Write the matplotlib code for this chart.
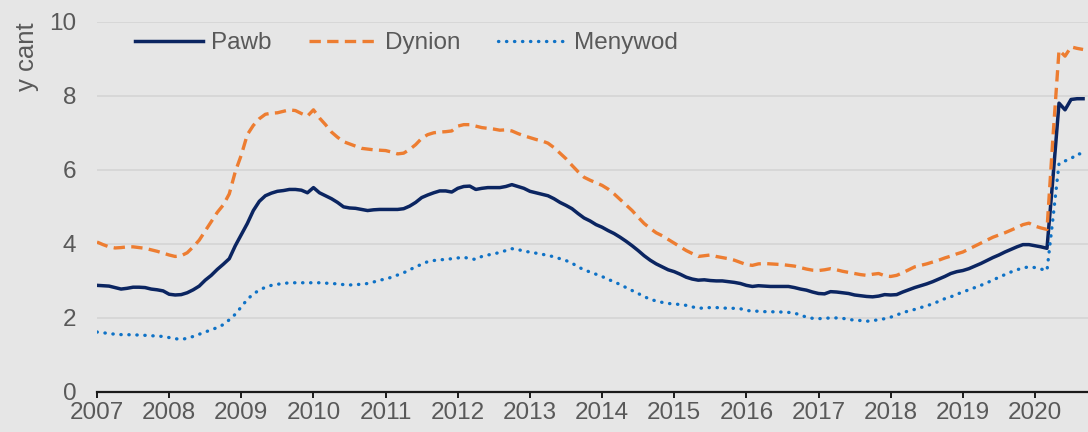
import numpy as np
import pandas as pd
import matplotlib
matplotlib.use("Agg")
import matplotlib.pyplot as plt

# misol fesul mis, Ionawr 2007 - Medi 2020
pawb = [
    2.88, 2.87, 2.86, 2.82, 2.78, 2.80, 2.83, 2.83, 2.82, 2.78, 2.76, 2.73,  # 2007
    2.64, 2.62, 2.63, 2.68, 2.76, 2.86, 3.02, 3.15, 3.31, 3.45, 3.60, 3.95,  # 2008
    4.25, 4.55, 4.90, 5.15, 5.30, 5.37, 5.42, 5.44, 5.47, 5.47, 5.45, 5.38,  # 2009
    5.52, 5.38, 5.30, 5.22, 5.12, 5.00, 4.97, 4.96, 4.93, 4.90, 4.92, 4.93,  # 2010
    4.93, 4.93, 4.93, 4.95, 5.02, 5.12, 5.25, 5.32, 5.38, 5.43, 5.43, 5.40,  # 2011
    5.50, 5.55, 5.56, 5.47, 5.50, 5.52, 5.52, 5.52, 5.55, 5.60, 5.55, 5.50,  # 2012
    5.42, 5.38, 5.34, 5.30, 5.22, 5.12, 5.04, 4.95, 4.82, 4.70, 4.62, 4.52,  # 2013
    4.45, 4.36, 4.28, 4.18, 4.07, 3.95, 3.82, 3.68, 3.56, 3.46, 3.38, 3.30,  # 2014
    3.25, 3.18, 3.10, 3.05, 3.02, 3.03, 3.01, 3.00, 3.00, 2.98, 2.96, 2.93,  # 2015
    2.88, 2.85, 2.87, 2.86, 2.85, 2.85, 2.85, 2.85, 2.82, 2.78, 2.75, 2.70,  # 2016
    2.66, 2.65, 2.71, 2.70, 2.68, 2.66, 2.62, 2.60, 2.58, 2.57, 2.59, 2.63,  # 2017
    2.62, 2.63, 2.70, 2.76, 2.82, 2.87, 2.92, 2.98, 3.05, 3.12, 3.20, 3.25,  # 2018
    3.28, 3.33, 3.40, 3.47, 3.55, 3.63, 3.70, 3.78, 3.85, 3.92, 3.98, 3.98,  # 2019
    3.95, 3.92, 3.88, 5.80, 7.80, 7.62, 7.90, 7.92, 7.92,                    # 2020
]
dynion = [
    4.05, 3.98, 3.92, 3.89, 3.90, 3.92, 3.92, 3.90, 3.88, 3.84, 3.80, 3.75,
    3.70, 3.66, 3.68, 3.76, 3.92, 4.10, 4.35, 4.60, 4.85, 5.05, 5.35, 5.95,
    6.40, 6.95, 7.20, 7.38, 7.50, 7.53, 7.54, 7.58, 7.62, 7.60, 7.52, 7.45,
    7.62, 7.40, 7.22, 7.02, 6.88, 6.76, 6.70, 6.64, 6.58, 6.56, 6.54, 6.53,
    6.52, 6.48, 6.43, 6.45, 6.55, 6.68, 6.85, 6.95, 7.00, 7.02, 7.03, 7.05,
    7.18, 7.22, 7.22, 7.18, 7.14, 7.12, 7.10, 7.07, 7.08, 7.05, 6.98, 6.92,
    6.87, 6.82, 6.78, 6.72, 6.60, 6.45, 6.30, 6.12, 5.95, 5.80, 5.72, 5.65,
    5.58, 5.48, 5.35, 5.20, 5.05, 4.90, 4.72, 4.55, 4.42, 4.30, 4.22, 4.12,
    4.02, 3.92, 3.82, 3.74, 3.66, 3.68, 3.70, 3.66, 3.63, 3.60, 3.56, 3.50,
    3.44, 3.42, 3.46, 3.47, 3.46, 3.45, 3.44, 3.42, 3.40, 3.36, 3.32, 3.29,
    3.28, 3.30, 3.33, 3.30, 3.26, 3.23, 3.20, 3.17, 3.15, 3.18, 3.20, 3.14,
    3.12, 3.15, 3.22, 3.30, 3.38, 3.42, 3.46, 3.51, 3.56, 3.62, 3.67, 3.73,
    3.78, 3.86, 3.94, 4.02, 4.10, 4.18, 4.24, 4.30, 4.37, 4.44, 4.52, 4.56,
    4.48, 4.43, 4.39, 6.90, 9.23, 9.07, 9.32, 9.28, 9.25,
]
menywod = [
    1.62, 1.60, 1.58, 1.56, 1.55, 1.55, 1.54, 1.54, 1.53, 1.52, 1.51, 1.50,
    1.47, 1.44, 1.42, 1.45, 1.50, 1.56, 1.62, 1.68, 1.74, 1.82, 1.95, 2.10,
    2.30, 2.50, 2.65, 2.75, 2.83, 2.88, 2.91, 2.93, 2.95, 2.95, 2.95, 2.95,
    2.95, 2.95, 2.94, 2.93, 2.92, 2.90, 2.89, 2.90, 2.91, 2.93, 2.97, 3.02,
    3.05, 3.10, 3.16, 3.22, 3.30, 3.38, 3.45, 3.52, 3.55, 3.57, 3.58, 3.60,
    3.62, 3.64, 3.60, 3.58, 3.66, 3.70, 3.73, 3.77, 3.82, 3.87, 3.85, 3.80,
    3.78, 3.75, 3.72, 3.69, 3.65, 3.60, 3.55, 3.48, 3.38, 3.30, 3.24, 3.18,
    3.12, 3.04, 2.98, 2.90, 2.82, 2.74, 2.66, 2.58, 2.50, 2.46, 2.42, 2.39,
    2.38, 2.36, 2.34, 2.30, 2.26, 2.27, 2.28, 2.28, 2.27, 2.26, 2.26, 2.25,
    2.20, 2.19, 2.18, 2.17, 2.17, 2.16, 2.16, 2.15, 2.13, 2.08, 2.02, 1.99,
    1.98, 1.99, 2.00, 2.00, 1.99, 1.96, 1.94, 1.93, 1.91, 1.93, 1.95, 1.98,
    2.02, 2.08, 2.14, 2.19, 2.23, 2.28, 2.33, 2.38, 2.45, 2.52, 2.57, 2.64,
    2.70, 2.76, 2.82, 2.88, 2.95, 3.02, 3.10, 3.17, 3.24, 3.30, 3.35, 3.38,
    3.36, 3.32, 3.28, 4.70, 6.17, 6.24, 6.30, 6.43, 6.43,
]
blynyddoedd = list(range(2007, 2021))

misoedd = pd.date_range("2007-01-01", periods=len(pawb), freq="MS")
x = misoedd.year + (misoedd.month - 1) / 12

plt.rcParams["font.family"] = ["Liberation Sans", "DejaVu Sans"]
cefndir = "#e6e6e6"
llwyd = "#595959"
maint = 17.5

fig = plt.figure(figsize=(10.88, 4.32), dpi=100, facecolor=cefndir)
ax = fig.add_axes([97 / 1088, 40 / 432, 991 / 1088, 370.3 / 432])
ax.set_facecolor(cefndir)

ax.plot(x, pawb, color="#0b2561", lw=2.5, label="Pawb")
ax.plot(x, dynion, color="#ed7d31", lw=2.4, linestyle=(0, (3.4, 1.9)), label="Dynion")
ax.plot(x, menywod, color="#0f72c6", lw=2.4, linestyle=(0, (0.1, 2.3)),
        dash_capstyle="round", label="Menywod")

ax.set_xlim(2007, 2020.735)
ax.set_ylim(0, 10)
ax.set_xticks(blynyddoedd)
ax.set_yticks([0, 2, 4, 6, 8, 10])

ax.grid(axis="y", color="#d6d6d6", lw=1.3)
ax.set_axisbelow(True)
for s in ["left", "right", "top"]:
    ax.spines[s].set_visible(False)
ax.spines["bottom"].set_color("#1a1a1a")
ax.spines["bottom"].set_linewidth(1.6)
ax.spines["bottom"].set_zorder(5)

ax.tick_params(axis="x", direction="out", length=4.5, width=1.4, color="#1a1a1a",
               pad=2.5, labelsize=maint, labelcolor=llwyd)
ax.tick_params(axis="y", length=0, pad=15, labelsize=maint, labelcolor=llwyd)

fig.text(27 / 1088, 1 - 22 / 432, "y cant", rotation=90, ha="center", va="top",
         fontsize=maint + 1, color=llwyd)

ax.legend(loc="center left", bbox_to_anchor=(0.038, 0.942), ncol=3, frameon=False,
          fontsize=maint, labelcolor=llwyd, handlelength=2.8, handletextpad=0.33,
          columnspacing=1.55, borderpad=0, borderaxespad=0)

fig.savefig("out.png", dpi=100, facecolor=cefndir)
